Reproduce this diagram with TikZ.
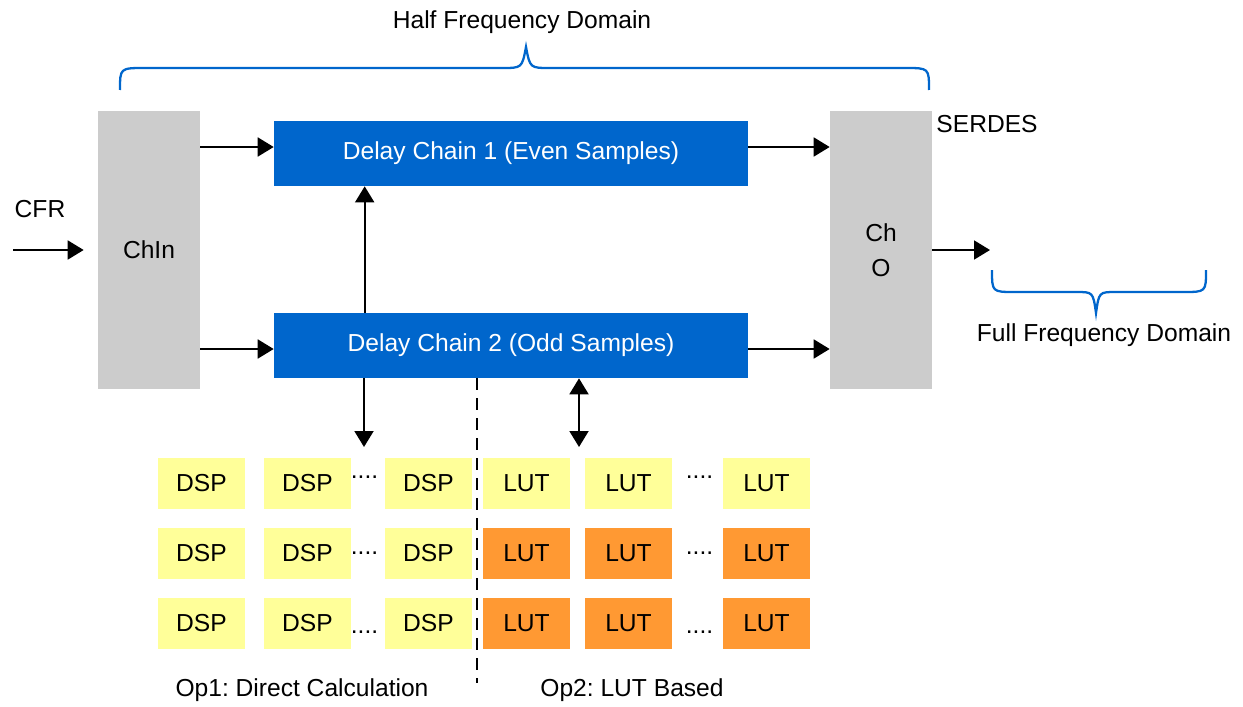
\documentclass[tikz,border=0pt]{standalone}
\usepackage{fontspec}
\setmainfont{Liberation Sans}
\usetikzlibrary{arrows.meta}
\frenchspacing

\definecolor{chainblue}{HTML}{0066CC}
\definecolor{chgray}{HTML}{CCCCCC}
\definecolor{cellyellow}{HTML}{FFFF99}
\definecolor{cellorange}{HTML}{FF9933}

\begin{document}
\begin{tikzpicture}[x=0.02cm, y=-0.02cm]
    \tikzstyle{every node}=[font=\fontsize{14}{17}\selectfont]
    \tikzstyle{chbox} = [fill=chgray, minimum width=2.04cm, minimum height=5.56cm, inner sep=0pt, align=center]
    \tikzstyle{chain} = [fill=chainblue, text=white, minimum width=9.48cm, minimum height=1.3cm, inner sep=0pt]
    \tikzstyle{cell} = [minimum width=1.74cm, minimum height=1.02cm, inner sep=0pt]
    \tikzstyle{arr} = [line width=1.1pt, -{Triangle[length=0.32cm,width=0.38cm]}]
    \tikzstyle{dblarr} = [line width=1.1pt, {Triangle[length=0.32cm,width=0.38cm]}-{Triangle[length=0.32cm,width=0.38cm]}]
    \tikzstyle{brace} = [draw=chainblue, line width=1.3pt]
    \tikzstyle{sepline} = [line width=1.3pt, dash pattern=on 0.24cm off 0.16cm]

    \useasboundingbox (0,0) rectangle (1243,706);

    % main blocks
    \node[chbox] (chin) at (149,250) {ChIn};
    \node[chbox, font=\fontsize{14}{20}\selectfont] (cho) at (881,250) {Ch\\O};
    \node[chain] (dc1) at (511,153.5) {Delay Chain 1 (Even Samples)};
    \node[chain] (dc2) at (511,345.5) {Delay Chain 2 (Odd Samples)};

    \node (cfr) at (40,209) {CFR};
    \node (serdes) at (987,124) {SERDES};
    \node (half) at (522,22) {Half Frequency Domain};
    \node (full) at (1104,335) {Full Frequency Domain};

    % DSP and LUT cells
    \foreach \r/\y in {1/483.5, 2/553.5, 3/623.5} {
        \foreach \c/\x in {1/201.5, 2/307.5, 3/428.5}
            \node[cell, fill=cellyellow] (dsp-\r-\c) at (\x,\y) {DSP};
    }
    \foreach \r/\y/\col in {1/483.5/cellyellow, 2/553.5/cellorange, 3/623.5/cellorange} {
        \foreach \c/\x in {1/526.5, 2/628.5, 3/766.5}
            \node[cell, fill=\col] (lut-\r-\c) at (\x,\y) {LUT};
    }
    \foreach \r/\y in {1/477, 2/553, 3/632} {
        \node[inner sep=0pt] (dspdots-\r) at (364.5,\y) {....};
        \node[inner sep=0pt] (lutdots-\r) at (699.5,\y) {....};
    }

    \node (op1) at (302,690) {Op1: Direct Calculation};
    \node (op2) at (632,690) {Op2: LUT Based};

    % connectors
    \coordinate (cfrin) at (13,250);
    \coordinate (out) at (990,250);
    \coordinate (dspin) at (364,447);
    \coordinate (lutin) at (579,447);
    \coordinate (sepbot) at (477,683);

    \draw[arr] (cfrin) -- ([xshift=-0.28cm]chin.west);
    \draw[arr] ([yshift=0.13cm]chin.east |- dc1) -- ([yshift=0.13cm]dc1.west);
    \draw[arr] ([yshift=-0.07cm]chin.east |- dc2) -- ([yshift=-0.07cm]dc2.west);
    \draw[arr] ([yshift=0.13cm]dc1.east) -- ([yshift=0.13cm]cho.west |- dc1);
    \draw[arr] ([yshift=-0.07cm]dc2.east) -- ([yshift=-0.07cm]cho.west |- dc2);
    \draw[arr] (cho.east) -- (out);
    \draw[arr] ([xshift=1.82cm]dc2.north west) -- ([xshift=1.82cm]dc1.south west);
    \draw[arr] (dc2.south -| dspin) -- (dspin);
    \draw[dblarr] (dc2.south -| lutin) -- (lutin);
    \draw[sepline] (dc2.south -| sepbot) -- (sepbot);

    % braces
    \draw[brace] (120,90) .. controls (120,68) .. (145,68) -- (502,68)
        .. controls (522,68) .. (526,47) .. controls (530,68) .. (550,68)
        -- (905,68) .. controls (929,68) .. (929,90);
    \draw[brace] (992,270) .. controls (992,292) .. (1015,292) -- (1076,292)
        .. controls (1093,292) .. (1096,313) .. controls (1099,292) .. (1116,292)
        -- (1183,292) .. controls (1206,292) .. (1206,270);
\end{tikzpicture}
\end{document}
